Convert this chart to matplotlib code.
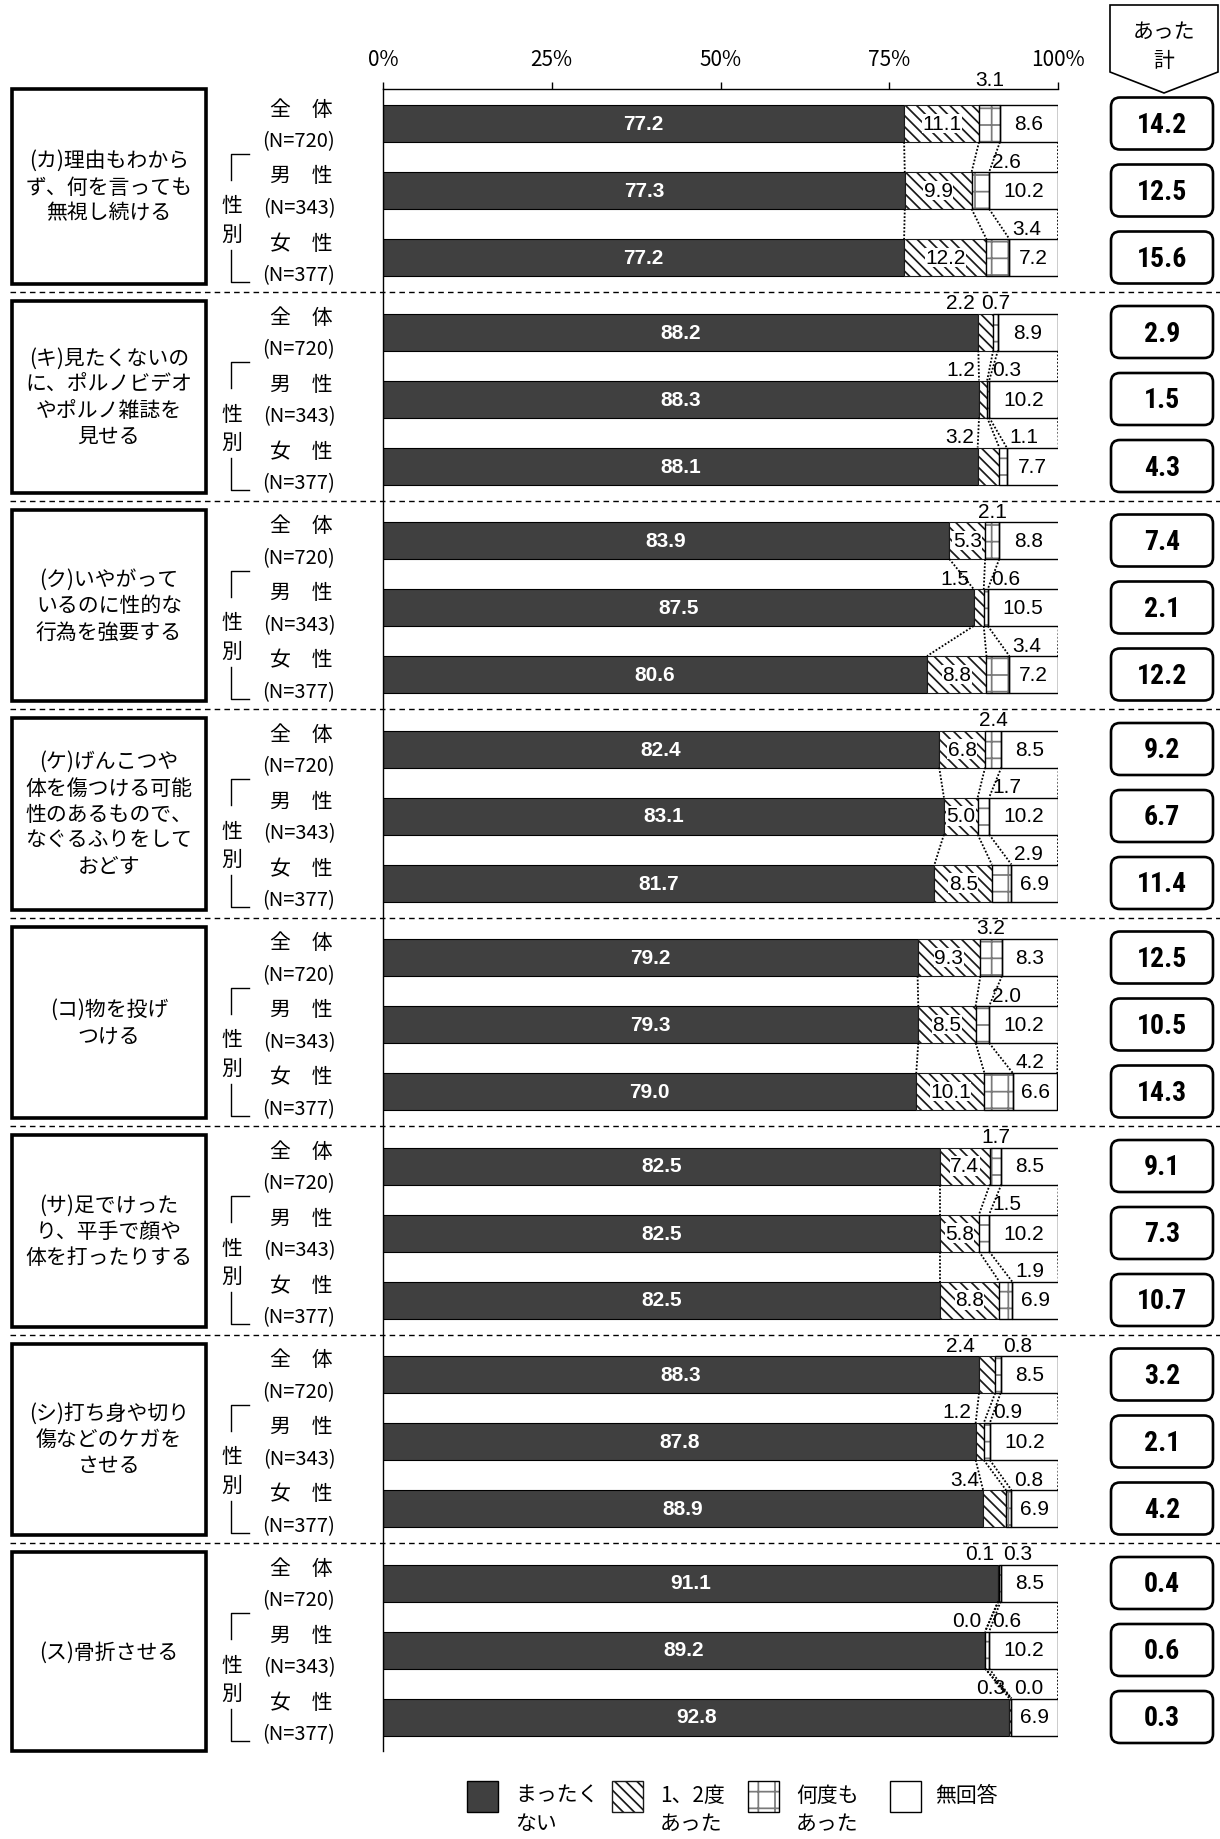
import matplotlib
matplotlib.use("Agg")
import matplotlib.pyplot as plt
from matplotlib.patches import Rectangle, FancyBboxPatch, Polygon
from matplotlib import font_manager as fm

plt.rcParams['font.family'] = ['Noto Sans CJK JP', 'DejaVu Sans']
plt.rcParams['hatch.linewidth'] = 1.25

# ---------------- data ----------------
items = [
    "(カ)理由もわから\nず、何を言っても\n無視し続ける",
    "(キ)見たくないの\nに、ポルノビデオ\nやポルノ雑誌を\n見せる",
    "(ク)いやがって\nいるのに性的な\n行為を強要する",
    "(ケ)げんこつや\n体を傷つける可能\n性のあるもので、\nなぐるふりをして\nおどす",
    "(コ)物を投げ\nつける",
    "(サ)足でけった\nり、平手で顔や\n体を打ったりする",
    "(シ)打ち身や切り\n傷などのケガを\nさせる",
    "(ス)骨折させる",
]
groups = ["全　体", "男　性", "女　性"]
group_n = ["(N=720)", "(N=343)", "(N=377)"]
categories = ["まったく\nない", "1、2度\nあった", "何度も\nあった", "無回答"]

never = [[77.2, 77.3, 77.2], [88.2, 88.3, 88.1], [83.9, 87.5, 80.6], [82.4, 83.1, 81.7],
         [79.2, 79.3, 79.0], [82.5, 82.5, 82.5], [88.3, 87.8, 88.9], [91.1, 89.2, 92.8]]
once_twice = [[11.1, 9.9, 12.2], [2.2, 1.2, 3.2], [5.3, 1.5, 8.8], [6.8, 5.0, 8.5],
              [9.3, 8.5, 10.1], [7.4, 5.8, 8.8], [2.4, 1.2, 3.4], [0.1, 0.0, 0.3]]
many_times = [[3.1, 2.6, 3.4], [0.7, 0.3, 1.1], [2.1, 0.6, 3.4], [2.4, 1.7, 2.9],
              [3.2, 2.0, 4.2], [1.7, 1.5, 1.9], [0.8, 0.9, 0.8], [0.3, 0.6, 0.0]]
no_answer = [[8.6, 10.2, 7.2], [8.9, 10.2, 7.7], [8.8, 10.5, 7.2], [8.5, 10.2, 6.9],
             [8.3, 10.2, 6.6], [8.5, 10.2, 6.9], [8.5, 10.2, 6.9], [8.5, 10.2, 6.9]]
experienced = [[14.2, 12.5, 15.6], [2.9, 1.5, 4.3], [7.4, 2.1, 12.2], [9.2, 6.7, 11.4],
               [12.5, 10.5, 14.3], [9.1, 7.3, 10.7], [3.2, 2.1, 4.2], [0.4, 0.6, 0.3]]

x_ticks = [0, 25, 50, 75, 100]
x_tick_labels = ["0%", "25%", "50%", "75%", "100%"]

# label placement for narrow segments: 'in' inside, 'c' above centred,
# 'l' above to the right of the segment, 'r' above to the left of it
hatch_pos = [["in", "in", "in"], ["r", "r", "r"], ["in", "r", "in"], ["in", "in", "in"],
             ["in", "in", "in"], ["in", "in", "in"], ["r", "r", "r"], ["r", "r", "r"]]
many_pos = [["c", "l", "l"], ["c", "l", "l"], ["c", "l", "l"], ["c", "l", "l"],
            ["c", "l", "l"], ["c", "l", "l"], ["l", "l", "l"], ["l", "l", "l"]]

# ---------------- fonts ----------------
available = {f.name for f in fm.fontManager.ttflist}
NUM_FONT = "Liberation Sans" if "Liberation Sans" in available else "DejaVu Sans"
NARROW_FONT = next((n for n in ["Liberation Sans Narrow", "DejaVu Sans Condensed",
                                "Roboto Condensed", "Liberation Sans"] if n in available),
                   "DejaVu Sans")
JP = ['Noto Sans CJK JP', 'DejaVu Sans']

# ---------------- layout (pixels) ----------------
W, H = 1220, 1840
X0, X1 = 383, 1058
Y_TOP, Y_BOT = 90, 1752
GROUP_START, GROUP_PITCH, ROW_PITCH = 124.5, 208.5, 67.0
BAR_H = 37.0
PX = (X1 - X0) / 100.0  # pixels per percent

DARK = "#404040"

fig = plt.figure(figsize=(W / 100, H / 100), dpi=100)
fig.patch.set_facecolor("white")

ax = fig.add_axes([X0 / W, 1 - Y_BOT / H, (X1 - X0) / W, (Y_BOT - Y_TOP) / H])
ax.set_xlim(0, 100)
ax.set_ylim(Y_BOT, Y_TOP)
ax.patch.set_visible(False)
for s in ["bottom", "right"]:
    ax.spines[s].set_visible(False)
ax.spines["top"].set_linewidth(1.0)
ax.spines["left"].set_linewidth(1.0)
ax.xaxis.tick_top()
ax.set_xticks(x_ticks)
ax.set_xticklabels(x_tick_labels, fontsize=15, family=JP)
ax.tick_params(axis="x", direction="out", length=5, width=1, pad=9)
ax.set_yticks([])

deco = fig.add_axes([0, 0, 1, 1])
deco.set_xlim(0, W)
deco.set_ylim(H, 0)
deco.axis("off")
deco.patch.set_visible(False)


def row_y(g, r):
    return GROUP_START + g * GROUP_PITCH + r * ROW_PITCH


def draw_many_pattern(target, left, width, y, h):
    # dotted-grid fill: grey cross hatch under a solid black outline
    target.add_patch(Rectangle((left, y - h / 2), width, h, facecolor="white",
                               edgecolor="#7a7a7a", hatch="+", linewidth=0, zorder=2))
    target.add_patch(Rectangle((left, y - h / 2), width, h, fill=False,
                               edgecolor="black", linewidth=1.0, zorder=3))


small_kw = dict(fontsize=15, family=NUM_FONT, color="black", zorder=6)

for g in range(len(items)):
    ys = [row_y(g, r) for r in range(3)]
    bounds = []
    for r in range(3):
        y = ys[r]
        a, b, c, d = never[g][r], once_twice[g][r], many_times[g][r], no_answer[g][r]
        ax.barh(y, a, height=BAR_H, color=DARK, edgecolor="black", linewidth=0.8, zorder=2)
        ax.barh(y, b, left=a, height=BAR_H, color="white", edgecolor="#1a1a1a",
                hatch="\\\\\\", linewidth=0.8, zorder=2)
        draw_many_pattern(ax, a + b, c, y, BAR_H)
        ax.barh(y, d, left=a + b + c, height=BAR_H, color="white", edgecolor="black",
                linewidth=1.0, zorder=2)
        bounds.append([a, a + b, a + b + c, a + b + c + d])

        # value labels
        ax.text(a / 2, y, f"{a:.1f}", ha="center", va="center", fontsize=15,
                family=NUM_FONT, fontweight="bold", color="white", zorder=6)
        above = y - BAR_H / 2 - 11
        mode = hatch_pos[g][r]
        if mode == "in":
            ax.text(a + b / 2, y, f"{b:.1f}", ha="center", va="center",
                    bbox=dict(facecolor="white", edgecolor="none", pad=0.3), **small_kw)
        else:
            ax.text(a - 4 / PX, above, f"{b:.1f}", ha="right", va="center", **small_kw)
        mode = many_pos[g][r]
        lift = 26 if (g == 0 and r == 0) else 11
        above_m = y - BAR_H / 2 - lift
        if mode == "c":
            ax.text(a + b + c / 2, above_m, f"{c:.1f}", ha="center", va="center", **small_kw)
        else:
            ax.text(a + b + c + 3 / PX, above_m, f"{c:.1f}", ha="left", va="center", **small_kw)
        ax.text(a + b + c + d / 2, y, f"{d:.1f}", ha="center", va="center", **small_kw)

        # total box on the right
        deco.add_patch(FancyBboxPatch((1111, y - 26), 102, 52,
                                      boxstyle="round,pad=0,rounding_size=9",
                                      facecolor="white", edgecolor="black", linewidth=1.9))
        deco.text(1162, y + 1, f"{experienced[g][r]:.1f}", ha="center", va="center",
                  fontsize=20, family=NARROW_FONT, fontweight="bold")

        # row captions
        deco.text(301, y - 15, groups[r], ha="center", va="center", fontsize=15, family=JP)
        deco.text(299, y + 17, group_n[r], ha="center", va="center", fontsize=14.5, family=JP)

    # dotted series lines between adjacent bars
    for r in range(2):
        for k in range(4):
            ax.plot([bounds[r][k], bounds[r + 1][k]],
                    [ys[r] + BAR_H / 2, ys[r + 1] - BAR_H / 2],
                    ls=(0, (1, 1)), color="black", lw=1.3, zorder=4)

    # 性別 bracket
    base = ys[0]
    deco.plot([249, 231, 231], [base + 30, base + 30, base + 56], color="black", lw=1.0)
    deco.plot([231, 231, 249], [ys[2] - 8, ys[2] + 24, ys[2] + 24], color="black", lw=1.0)
    deco.text(232, ys[1] + 15, "性", ha="center", va="center", fontsize=15, family=JP)
    deco.text(232, ys[1] + 43, "別", ha="center", va="center", fontsize=15, family=JP)

    # item box on the left
    top = Y_TOP if g == 0 else base - 40 + 9
    bottom = Y_BOT if g == len(items) - 1 else row_y(g + 1, 0) - 40 - 8
    deco.add_patch(Rectangle((12, top), 194, bottom - top, facecolor="white",
                             edgecolor="black", linewidth=2.6))
    deco.text(109, (top + bottom) / 2, items[g], ha="center", va="center",
              fontsize=15, family=JP, linespacing=1.25)

    # dashed separator before the next group
    if g < len(items) - 1:
        ysep = row_y(g + 1, 0) - 40
        deco.plot([10, W], [ysep, ysep], color="black", lw=1.0, ls=(0, (4, 3)))

# header arrow "あった計"
deco.add_patch(Polygon([(1110, 6), (1218, 6), (1218, 73), (1164, 94), (1110, 73)],
                       closed=True, facecolor="white", edgecolor="black", linewidth=1.2))
deco.text(1164, 32, "あった", ha="center", va="center", fontsize=15, family=JP)
deco.text(1164, 61, "計", ha="center", va="center", fontsize=15, family=JP)

# legend
leg_box_x = [467, 612, 748, 890]
leg_text_x = [515, 660, 796, 935]
LY = 1782
for i, lab in enumerate(categories):
    bx = leg_box_x[i]
    if i == 0:
        deco.add_patch(Rectangle((bx, LY), 31, 31, facecolor=DARK, edgecolor="black", lw=1.0))
    elif i == 1:
        deco.add_patch(Rectangle((bx, LY), 31, 31, facecolor="white", edgecolor="#1a1a1a",
                                 hatch="\\\\\\", lw=1.0))
    elif i == 2:
        draw_many_pattern(deco, bx, 31, LY + 15.5, 31)
    else:
        deco.add_patch(Rectangle((bx, LY), 31, 31, facecolor="white", edgecolor="black", lw=1.0))
    deco.text(leg_text_x[i], LY + 3, lab, ha="left", va="top", fontsize=15, family=JP,
              linespacing=1.35)

fig.savefig("out.png", dpi=100, facecolor="white")
